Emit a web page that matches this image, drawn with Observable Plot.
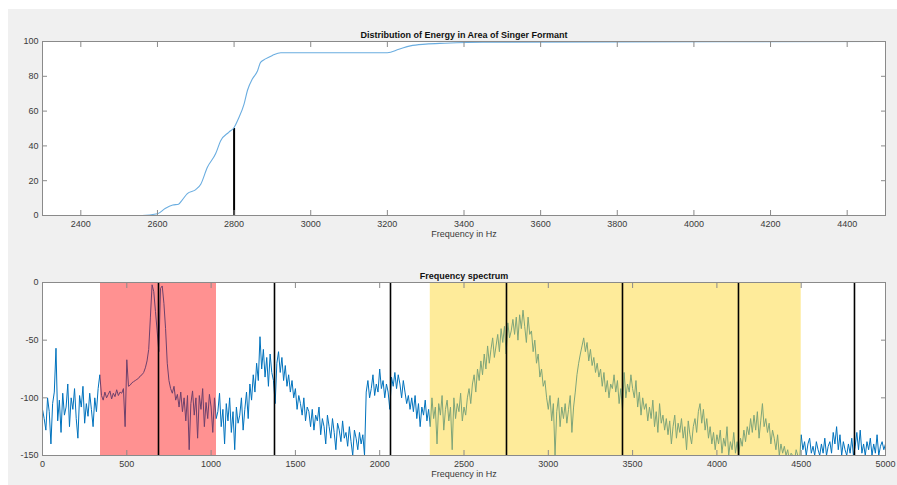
<!DOCTYPE html>
<html><head><meta charset="utf-8">
<script src="https://cdn.jsdelivr.net/npm/d3@7"></script>
<script src="https://cdn.jsdelivr.net/npm/@observablehq/plot@0.6"></script>
<style>
body{margin:0;background:#fff;}
#fig{position:relative;width:897px;height:485px;overflow:hidden;}
#bg{position:absolute;left:8px;top:9px;right:0;bottom:0;background:#f0f0f0;}
#top,#bot{position:absolute;left:0;}
#top{top:0px}
#bot{top:245px}
</style></head><body>
<div id="fig"><div id="bg"></div><div id="top"></div><div id="bot"></div></div>
<script>
// ---- top subplot: cumulative energy distribution ----
const topTitle = "Distribution of Energy in Area of Singer Formant";
const xLabel = "Frequency in Hz";
const cumFreq = [2300, 2560, 2600, 2620, 2640, 2655, 2665, 2678, 2700, 2713, 2730, 2752, 2765, 2786, 2800, 2812, 2826, 2835, 2848, 2861, 2869, 2882, 2900, 2922, 3200, 3230, 3260, 3300, 3350, 3450, 4500];
const cumPct  = [0, 0, 1, 4, 6, 6.5, 9, 12.6, 14.9, 18, 27.6, 35.6, 43, 47.8, 50.6, 56, 64, 72, 78.6, 83, 88, 90, 92, 93.5, 93.5, 95.5, 97.5, 98.5, 99, 99.6, 100];
const markerFreq = [2800];
const markerPct = [50];
const topXTicks = [2400, 2600, 2800, 3000, 3200, 3400, 3600, 3800, 4000, 4200, 4400];
const topYTicks = [0, 20, 40, 60, 80, 100];

// ---- bottom subplot: frequency spectrum ----
const botTitle = "Frequency spectrum";
const specStep = 10; // Hz between samples, starting at 0 Hz
const specDb = [
  -110, -118, -128, -100, -112, -140, -105, -95, -57, -120,
  -102, -130, -96, -115, -108, -88, -125, -100, -110, -92,
  -118, -135, -98, -108, -90, -122, -105, -116, -96, -110,
  -125, -100, -112, -92, -80, -98, -102, -95, -100, -97,
  -94, -101, -96, -99, -93, -98, -95, -96, -92, -125,
  -67, -90, -89, -87, -86, -85, -84, -83, -81, -80,
  -78, -74, -68, -58, -30, -2, -8, -25, -42, -60,
  -5, -3, -18, -40, -70, -85, -92, -96, -90, -102,
  -97, -108, -95, -112, -100, -120, -98, -145, -105, -94,
  -115, -100, -135, -98, -110, -92, -125, -104, -118, -97,
  -108, -130, -100, -118, -112, -96, -125, -110, -140, -105,
  -120, -100, -130, -112, -145, -108, -122, -115, -100, -128,
  -110, -95, -118, -88, -102, -80, -95, -70, -85, -47,
  -75, -58, -82, -65, -90, -62, -78, -85, -105, -70,
  -60, -78, -65, -85, -72, -90, -80, -95, -85, -100,
  -92, -110, -98, -105, -115, -100, -120, -108, -112, -125,
  -110, -128, -115, -120, -108, -132, -118, -125, -140, -115,
  -125, -135, -118, -130, -145, -122, -128, -138, -120, -135,
  -130, -142, -125, -138, -150, -128, -135, -145, -130, -140,
  -132, -150, -95, -85, -100, -92, -80, -98, -88, -95,
  -75, -92, -85, -100, -88, -95, -110, -82, -90, -78,
  -92, -80, -88, -100, -85, -95, -105, -98, -110, -100,
  -112, -98, -118, -105, -125, -108, -115, -102, -120, -110,
  -125, -100, -118, -108, -140, -105, -115, -98, -128, -110,
  -102, -120, -108, -145, -100, -118, -105, -112, -96, -120,
  -108, -115, -100, -92, -105, -88, -80, -95, -75, -85,
  -68, -80, -62, -75, -55, -70, -58, -48, -65, -55,
  -45, -60, -40, -52, -38, -62, -35, -48, -42, -32,
  -45, -30, -50, -28, -40, -24, -38, -52, -30, -45,
  -42, -60, -50, -70, -62, -82, -75, -90, -85, -100,
  -110, -98, -120, -105, -150, -112, -100, -125, -108, -118,
  -105, -122, -110, -98, -130, -108, -95, -80, -70, -62,
  -55, -48, -60, -52, -68, -58, -72, -65, -78, -70,
  -82, -75, -90, -78, -95, -85, -100, -88, -92, -80,
  -95, -85, -105, -92, -110, -78, -100, -88, -95, -80,
  -92, -100, -85, -108, -95, -115, -100, -110, -105, -120,
  -108, -118, -102, -125, -112, -130, -105, -122, -115, -128,
  -118, -132, -120, -140, -125, -115, -135, -122, -130, -118,
  -135, -125, -145, -120, -132, -140, -125, -118, -130, -112,
  -105, -122, -110, -128, -118, -135, -125, -140, -130, -145,
  -132, -140, -128, -148, -135, -142, -125, -150, -138, -145,
  -130, -148, -138, -150, -135, -142, -128, -138, -125, -132,
  -118, -130, -115, -128, -112, -135, -120, -105, -125, -118,
  -130, -122, -140, -128, -135, -145, -132, -150, -140, -148,
  -142, -150, -145, -155, -148, -150, -155, -145, -150, -155,
  -132, -145, -138, -150, -140, -135, -148, -142, -150, -138,
  -145, -150, -140, -148, -135, -150, -142, -138, -148, -130,
  -140, -125, -145, -132, -150, -138, -145, -150, -140, -148,
  -135, -150, -142, -130, -145, -128, -148, -140, -150, -138,
  -145, -135, -150, -140, -148, -132, -150, -142, -138, -145,
  -140
];
const redBandStart = [344];
const redBandEnd = [1032];
const yellowBandStart = [2300];
const yellowBandEnd = [4500];
const harmonics = [688, 1376, 2064, 2752, 3440, 4128, 4816];
const botXTicks = [0, 500, 1000, 1500, 2000, 2500, 3000, 3500, 4000, 4500, 5000];
const botYTicks = [-150, -100, -50, 0];

const FONT = "'Liberation Sans', Arial, Helvetica, sans-serif";
const AX = "#8a8a8a";
const TXT = "#3a3a3a";
const fmt = d => String(d);

function boxAxes(xt, yt, titleText) {
  return [
    Plot.axisX(xt, {anchor: "bottom", tickSize: -5, tickPadding: 10, stroke: AX, fill: TXT, tickFormat: fmt, label: null}),
    Plot.axisX(xt, {anchor: "top", tickSize: -5, stroke: AX, tickFormat: () => "", label: null}),
    Plot.axisY(yt, {anchor: "left", tickSize: -5, tickPadding: 9, stroke: AX, fill: TXT, tickFormat: fmt, label: null}),
    Plot.axisY(yt, {anchor: "right", tickSize: -5, stroke: AX, tickFormat: () => "", label: null}),
    Plot.text([titleText], {frameAnchor: "top", dy: -10, fontWeight: "bold", fill: "#111", fontSize: 9}),
    Plot.text([xLabel], {frameAnchor: "bottom", dy: 21, fill: TXT, fontSize: 9}),
    Plot.frame({stroke: AX})
  ];
}

const cumData = cumFreq.map((f, i) => ({f, p: cumPct[i]}));
const markData = markerFreq.map((f, i) => ({f, p: markerPct[i]}));

const topPlot = Plot.plot({
  width: 897, height: 245,
  marginLeft: 42, marginRight: 12, marginTop: 41, marginBottom: 30,
  style: {background: "transparent", fontFamily: FONT, fontSize: "9px"},
  x: {domain: [2300, 4500]},
  y: {domain: [0, 100]},
  marks: [
    Plot.frame({fill: "white", stroke: null}),
    Plot.ruleX(markData, {x: "f", y1: 0, y2: "p", stroke: "black", strokeWidth: 2}),
    Plot.line(cumData, {x: "f", y: "p", stroke: "#6aade0", strokeWidth: 1.1, curve: "monotone-x"}),
    ...boxAxes(topXTicks, topYTicks, topTitle)
  ]
});
document.getElementById("top").appendChild(topPlot);

const specData = specDb.map((v, i) => ({f: i * specStep, v}));
const redBands = redBandStart.map((a, i) => ({a, b: redBandEnd[i]}));
const yellowBands = yellowBandStart.map((a, i) => ({a, b: yellowBandEnd[i]}));

const botPlot = Plot.plot({
  width: 897, height: 240,
  marginLeft: 42, marginRight: 12, marginTop: 37, marginBottom: 30,
  style: {background: "transparent", fontFamily: FONT, fontSize: "9px"},
  x: {domain: [0, 5000]},
  y: {domain: [-150, 0]},
  marks: [
    Plot.frame({fill: "white", stroke: null}),
    Plot.line(specData, {x: "f", y: "v", stroke: "#0072bd", strokeWidth: 1, clip: true}),
    Plot.rect(redBands, {x1: "a", x2: "b", fill: "red", fillOpacity: 0.43}),
    Plot.rect(yellowBands, {x1: "a", x2: "b", fill: "#fdd835", fillOpacity: 0.5}),
    Plot.ruleX(harmonics, {stroke: "black", strokeWidth: 1.6}),
    ...boxAxes(botXTicks, botYTicks, botTitle)
  ]
});
document.getElementById("bot").appendChild(botPlot);
</script>
</body></html>
